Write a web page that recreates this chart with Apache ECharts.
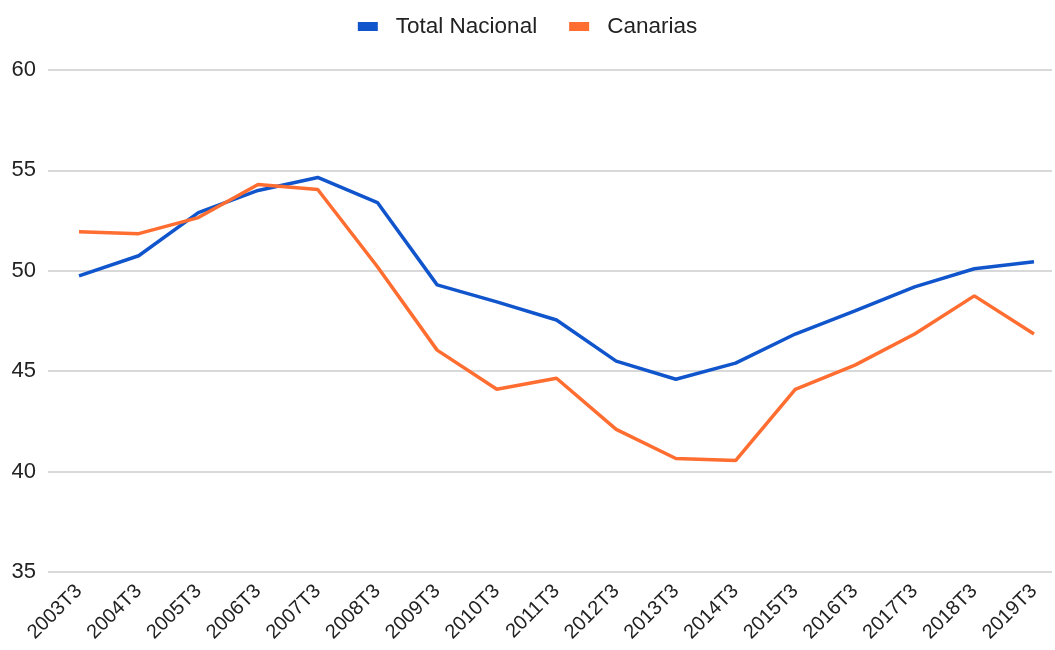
<!DOCTYPE html>
<html>
<head>
<meta charset="utf-8">
<script src="https://cdn.jsdelivr.net/npm/echarts@6/dist/echarts.min.js"></script>
<style>
  html, body { margin: 0; padding: 0; background: #fff; }
  #chart { width: 1055px; height: 650px; }
</style>
</head>
<body>
<div id="chart"></div>
<script>
const periodos = ['2003T3', '2004T3', '2005T3', '2006T3', '2007T3', '2008T3', '2009T3', '2010T3', '2011T3',
  '2012T3', '2013T3', '2014T3', '2015T3', '2016T3', '2017T3', '2018T3', '2019T3'];
const totalNacional = [49.75, 50.75, 52.9, 54.0, 54.65, 53.4, 49.3, 48.45, 47.55, 45.5, 44.6, 45.4, 46.85, 48.0, 49.2, 50.1, 50.45];
const canarias = [51.95, 51.85, 52.65, 54.3, 54.05, 50.2, 46.05, 44.1, 44.65, 42.1, 40.65, 40.55, 44.1, 45.3, 46.85, 48.75, 46.85];

const font = 'Arial, "Liberation Sans", sans-serif';

const myChart = echarts.init(document.getElementById('chart'));
const option = {
  animation: false,
  textStyle: { fontFamily: font },
  legend: {
    top: 10,
    left: 'center',
    itemWidth: 20,
    itemHeight: 9,
    itemGap: 32,
    icon: 'rect',
    textStyle: { fontSize: 22.5, color: '#222', fontFamily: font, padding: [0, 0, 0, 13] },
    data: ['Total Nacional', 'Canarias']
  },
  grid: [
    // grid de datos
    { left: 79, right: 21, top: 70, bottom: 78 },
    // grid de fondo, solo para las lineas horizontales
    { left: 48, right: 3, top: 70, bottom: 78 }
  ],
  xAxis: [
    {
      type: 'category',
      gridIndex: 0,
      data: periodos,
      boundaryGap: false,
      axisLine: { show: false },
      axisTick: { show: false },
      axisLabel: {
        interval: 0,
        rotate: 45,
        margin: 16,
        fontSize: 20,
        color: '#222',
        fontFamily: font
      }
    },
    { type: 'value', gridIndex: 1, show: false, min: 0, max: 1 }
  ],
  yAxis: [
    {
      type: 'value', gridIndex: 0, min: 35, max: 60, interval: 5,
      axisLabel: { show: false }, splitLine: { show: false },
      axisLine: { show: false }, axisTick: { show: false }
    },
    {
      type: 'value', gridIndex: 1, min: 35, max: 60, interval: 5,
      axisLine: { show: false },
      axisTick: { show: false },
      axisLabel: { fontSize: 22, color: '#222', margin: 12, fontFamily: font },
      splitLine: { lineStyle: { color: '#cccccc', width: 1.5 } }
    }
  ],
  series: [
    {
      name: 'Total Nacional',
      type: 'line',
      xAxisIndex: 0,
      yAxisIndex: 0,
      data: totalNacional,
      symbol: 'none',
      z: 3,
      itemStyle: { color: '#1155cc' },
      lineStyle: { color: '#1155cc', width: 3.5 }
    },
    {
      name: 'Canarias',
      type: 'line',
      xAxisIndex: 0,
      yAxisIndex: 0,
      data: canarias,
      symbol: 'none',
      z: 4,
      itemStyle: { color: '#ff6d31' },
      lineStyle: { color: '#ff6d31', width: 3.5 }
    }
  ]
};
option && myChart.setOption(option);
</script>
</body>
</html>
